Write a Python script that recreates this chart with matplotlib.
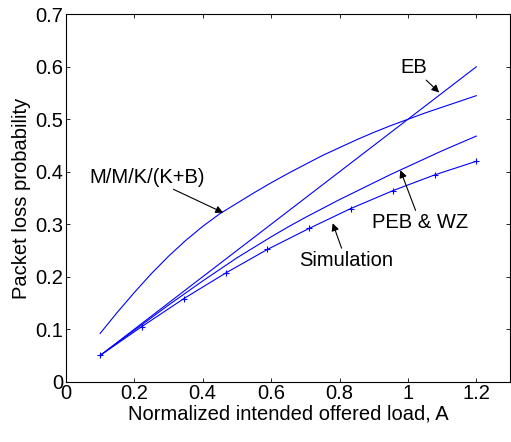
import numpy as np
import matplotlib
matplotlib.use("Agg")
import matplotlib.pyplot as plt

plt.rcParams['font.family'] = ['Liberation Sans', 'DejaVu Sans']

load = [0.10, 0.15, 0.20, 0.25, 0.30, 0.35, 0.40, 0.45, 0.50, 0.55, 0.60, 0.65,
        0.70, 0.75, 0.80, 0.85, 0.90, 0.95, 1.00, 1.05, 1.10, 1.15, 1.20]
mmk = [0.092, 0.132, 0.170, 0.206, 0.239, 0.269, 0.296, 0.320, 0.340, 0.360, 0.379, 0.397,
       0.414, 0.431, 0.446, 0.461, 0.475, 0.488, 0.500, 0.512, 0.523, 0.534, 0.545]
eb = [0.050, 0.075, 0.100, 0.125, 0.150, 0.175, 0.200, 0.225, 0.250, 0.275, 0.300, 0.325,
      0.350, 0.375, 0.400, 0.425, 0.450, 0.475, 0.500, 0.525, 0.550, 0.575, 0.600]
peb = [0.050, 0.074, 0.098, 0.122, 0.146, 0.169, 0.192, 0.214, 0.236, 0.256, 0.276, 0.295,
       0.313, 0.330, 0.347, 0.363, 0.379, 0.395, 0.410, 0.425, 0.440, 0.454, 0.468]

# simulation points
sim_load = [0.1, 0.222, 0.344, 0.467, 0.589, 0.711, 0.833, 0.956, 1.078, 1.2]
sim_loss = [0.050, 0.105, 0.158, 0.207, 0.252, 0.292, 0.330, 0.364, 0.394, 0.420]

xticks = [0, 0.2, 0.4, 0.6, 0.8, 1.0, 1.2]
xticklabels = ["0", "0.2", "0.4", "0.6", "0.8", "1", "1.2"]
yticks = [0, 0.1, 0.2, 0.3, 0.4, 0.5, 0.6, 0.7]
yticklabels = ["0", "0.1", "0.2", "0.3", "0.4", "0.5", "0.6", "0.7"]

fs = 14.5

fig = plt.figure(figsize=(5.11, 4.42), dpi=100)
ax = fig.add_axes([0.129, 0.1364, 0.870, 0.8312])

blue = (0, 0, 1)
ax.plot(load, mmk, color=blue, lw=0.8)
ax.plot(load, eb, color=blue, lw=0.8)
ax.plot(load, peb, color=blue, lw=0.8)
ax.plot(sim_load, sim_loss, color=blue, lw=0.8, marker='+', ms=5, mew=0.8)

ax.set_xlim(0, 1.3)
ax.set_ylim(0, 0.7)
ax.set_xticks(xticks)
ax.set_xticklabels(xticklabels)
ax.set_yticks(yticks)
ax.set_yticklabels(yticklabels)
ax.tick_params(direction='in', length=3, width=0.6, top=True, right=True,
               labelsize=fs, pad=2)
for s in ax.spines.values():
    s.set_linewidth(0.8)

ax.set_xlabel("Normalized intended offered load, A", fontsize=fs, labelpad=1)
ax.set_ylabel("Packet loss probability", fontsize=fs, labelpad=3)

arrow = dict(arrowstyle='-|>', color='black', lw=0.8,
             mutation_scale=11, shrinkA=0, shrinkB=0)
ax.annotate("EB", xy=(1.0915, 0.551), xytext=(1.016, 0.598),
            ha='center', va='center', fontsize=fs, arrowprops=arrow)
ax.annotate("M/M/K/(K+B)", xy=(0.46, 0.322), xytext=(0.238, 0.39),
            ha='center', va='center', fontsize=fs, arrowprops=arrow)
ax.annotate("PEB & WZ", xy=(0.978, 0.403), xytext=(1.036, 0.303),
            ha='center', va='center', fontsize=fs, arrowprops=arrow)
ax.annotate("Simulation", xy=(0.78, 0.302), xytext=(0.819, 0.231),
            ha='center', va='center', fontsize=fs, arrowprops=arrow)

fig.savefig("out.png", dpi=100)
